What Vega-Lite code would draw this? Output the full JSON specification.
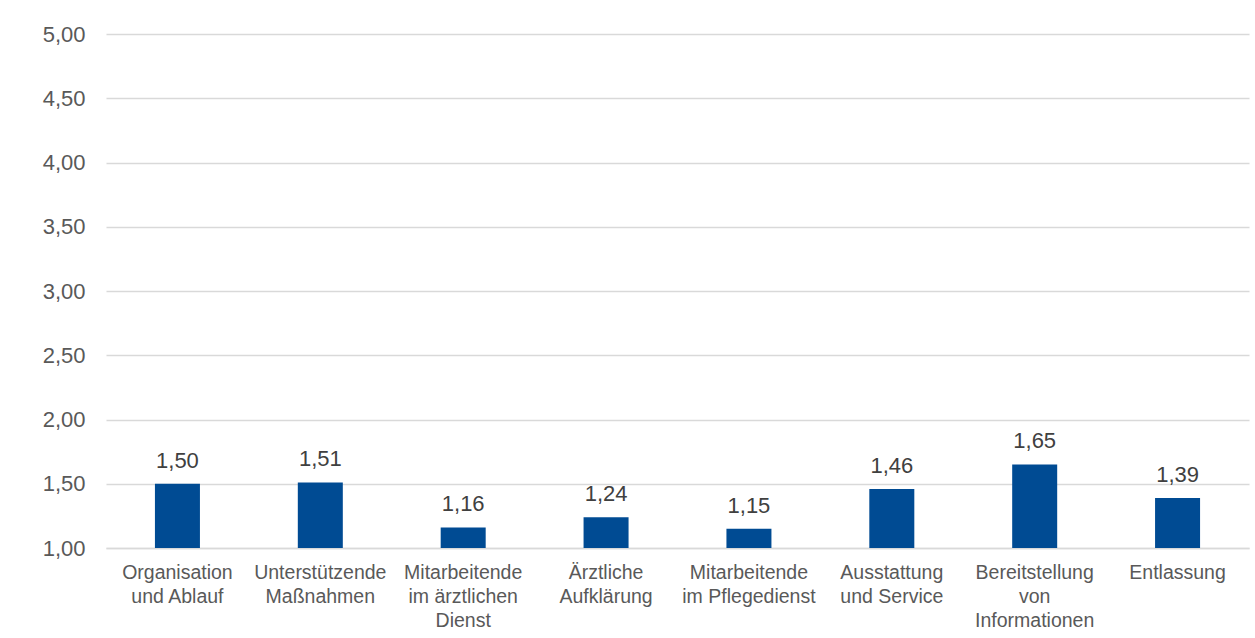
{
  "$schema": "https://vega.github.io/schema/vega-lite/v6.json",
  "width": 1143,
  "height": 514,
  "autosize": {"type": "none"},
  "padding": {"left": 106, "top": 34, "right": 6, "bottom": 90},
  "background": "white",
  "config": {
    "view": {"stroke": null},
    "font": "Liberation Sans",
    "locale": {"number": {"decimal": ",", "thousands": ".", "grouping": [3], "currency": ["", " €"]}}
  },
  "data": {
    "values": [
      {"kategorie": "Organisation\nund Ablauf", "wert": 1.50},
      {"kategorie": "Unterstützende\nMaßnahmen", "wert": 1.51},
      {"kategorie": "Mitarbeitende\nim ärztlichen\nDienst", "wert": 1.16},
      {"kategorie": "Ärztliche\nAufklärung", "wert": 1.24},
      {"kategorie": "Mitarbeitende\nim Pflegedienst", "wert": 1.15},
      {"kategorie": "Ausstattung\nund Service", "wert": 1.46},
      {"kategorie": "Bereitstellung\nvon\nInformationen", "wert": 1.65},
      {"kategorie": "Entlassung", "wert": 1.39}
    ]
  },
  "encoding": {
    "x": {
      "field": "kategorie",
      "type": "nominal",
      "sort": null,
      "scale": {"paddingInner": 0.685, "paddingOuter": 0.3425},
      "axis": {
        "title": null,
        "labelAngle": 0,
        "labelExpr": "split(datum.label, '\\n')",
        "labelFontSize": 19.5,
        "labelColor": "#595959",
        "labelLineHeight": 24,
        "labelPadding": 15,
        "labelLimit": 200,
        "ticks": false,
        "domain": true,
        "domainColor": "#d9d9d9",
        "domainWidth": 1.5,
        "labelBaseline": "top"
      }
    },
    "y": {
      "field": "wert",
      "type": "quantitative",
      "scale": {"domain": [1, 5], "zero": false, "nice": false},
      "axis": {
        "title": null,
        "values": [1, 1.5, 2, 2.5, 3, 3.5, 4, 4.5, 5],
        "format": ".2f",
        "labelFontSize": 22,
        "labelColor": "#595959",
        "labelPadding": 21,
        "ticks": false,
        "domain": false,
        "gridColor": "#d9d9d9",
        "gridWidth": 1.5
      }
    }
  },
  "layer": [
    {"mark": {"type": "bar", "color": "#004B93", "clip": true}, "encoding": {"y2": {"datum": 1}}},
    {
      "mark": {"type": "text", "baseline": "alphabetic", "dy": -16, "fontSize": 22, "color": "#404040"},
      "encoding": {"text": {"field": "wert", "type": "quantitative", "format": ".2f"}}
    }
  ]
}
